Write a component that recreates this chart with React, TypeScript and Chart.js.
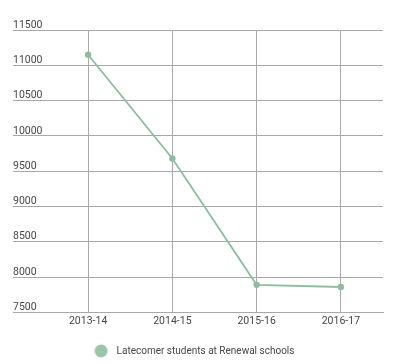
import React, { useEffect, useRef } from "react";
import { Chart, registerables } from "chart.js";

Chart.register(...registerables);

const categories = ["2013-14", "2014-15", "2015-16", "2016-17"];
const latecomers = [11150, 9680, 7890, 7860];
const seriesLabel = "Latecomer students at Renewal schools";
const yMin = 7500;
const yMax = 11500;
const yStep = 500;

function legendDot(color: string): HTMLCanvasElement {
  const c = document.createElement("canvas");
  c.width = 26;
  c.height = 14;
  const ctx = c.getContext("2d");
  if (ctx) {
    ctx.fillStyle = color;
    ctx.beginPath();
    ctx.arc(7.5, 7, 6.5, 0, Math.PI * 2);
    ctx.fill();
  }
  return c;
}

export default function App() {
  const ref = useRef<HTMLCanvasElement | null>(null);
  useEffect(() => {
    if (!ref.current) return;
    const green = "#8fbc9e";
    const gridColor = "#a8a8a8";
    const textColor = "#474747";
    const font = { family: "Roboto", size: 10.5 };
    const chart = new Chart(ref.current, {
      type: "line",
      data: {
        labels: categories,
        datasets: [
          {
            label: seriesLabel,
            data: latecomers,
            borderColor: green,
            backgroundColor: "#9cc5a9",
            borderWidth: 1.8,
            pointRadius: 3.2,
            pointBackgroundColor: green,
            pointBorderWidth: 0,
            tension: 0,
          },
        ],
      },
      options: {
        animation: false,
        responsive: false,
        maintainAspectRatio: false,
        layout: { padding: { left: 13, right: 17, top: 30, bottom: -2 } },
        font: font,
        plugins: {
          tooltip: { enabled: false },
          legend: {
            position: "bottom",
            labels: {
              usePointStyle: true,
              pointStyle: legendDot("#9dc4aa"),
              boxWidth: 10,
              boxHeight: 10,
              padding: 15,
              color: textColor,
              font: { family: "Roboto", size: 10 },
            },
          },
        },
        scales: {
          x: {
            offset: true,
            grid: { offset: false, color: gridColor, drawTicks: false, lineWidth: 1 },
            border: { display: true, color: gridColor },
            ticks: { color: textColor, padding: 3, font: font },
          },
          y: {
            min: yMin,
            max: yMax,
            afterFit: (scale: any) => {
              scale.width = 33;
            },
            grid: { color: gridColor, drawTicks: true, tickLength: 33, lineWidth: 1 },
            border: { display: false },
            ticks: {
              stepSize: yStep,
              crossAlign: "far",
              labelOffset: -5,
              color: textColor,
              font: font,
              callback: (v: any) => String(v),
            },
          },
        },
      },
    });
    return () => chart.destroy();
  }, []);
  return (
    <div style={{ position: "fixed", left: 0, top: 0, width: 400, height: 364, background: "#fff" }}>
      <canvas ref={ref} width={400} height={364} style={{ width: 400, height: 364, display: "block" }} />
    </div>
  );
}
